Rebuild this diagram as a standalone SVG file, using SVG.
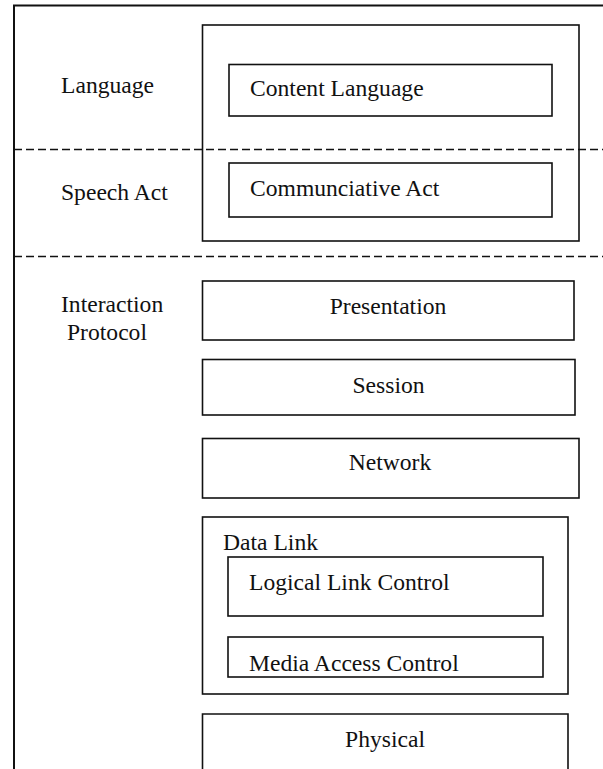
<svg xmlns="http://www.w3.org/2000/svg" width="603" height="769" viewBox="0 0 603 769">
  <style>
    .box { fill: none; stroke: #111; stroke-width: 1.6; }
    .frame { fill: none; stroke: #111; stroke-width: 2; }
    .sep { fill: none; stroke: #111; stroke-width: 1.6; stroke-dasharray: 8 4; }
    .t { font-family: "Liberation Serif", "Times New Roman", serif; font-size: 23.6px; fill: #111; }
    .c { text-anchor: middle; }
  </style>
  <rect width="603" height="769" fill="#fff"/>

  <!-- outer frame: top and left edges only -->
  <g id="frame">
    <path class="frame" d="M14 769 V5.5 H603"/>
  </g>

  <!-- layer separators -->
  <g id="connectors">
    <line class="sep" x1="14" y1="149.5" x2="603" y2="149.5"/>
    <line class="sep" x1="14" y1="256.5" x2="603" y2="256.5"/>
  </g>

  <!-- layer labels -->
  <g id="label-language"><text class="t" x="61" y="93">Language</text></g>
  <g id="label-speech-act"><text class="t" x="61" y="200">Speech Act</text></g>
  <g id="label-interaction-protocol">
    <text class="t" x="61" y="312">Interaction</text>
    <text class="t" x="67" y="340">Protocol</text>
  </g>

  <!-- agent communication stack -->
  <g id="acl-container">
    <rect class="box" x="202.5" y="25" width="376.5" height="216"/>
  </g>
  <g id="content-language">
    <rect class="box" x="229" y="64.5" width="323" height="51.5"/>
    <text class="t" x="250" y="96">Content Language</text>
  </g>
  <g id="communicative-act">
    <rect class="box" x="229" y="163" width="323" height="54"/>
    <text class="t" x="250" y="195.5">Communciative Act</text>
  </g>

  <!-- protocol layers -->
  <g id="presentation">
    <rect class="box" x="202.5" y="281" width="371.5" height="59"/>
    <text class="t c" x="388" y="314">Presentation</text>
  </g>
  <g id="session">
    <rect class="box" x="202.5" y="359.5" width="372.5" height="55.5"/>
    <text class="t c" x="388.5" y="393">Session</text>
  </g>
  <g id="network">
    <rect class="box" x="202.5" y="438.5" width="376.5" height="59.5"/>
    <text class="t c" x="390" y="470">Network</text>
  </g>
  <g id="data-link">
    <rect class="box" x="202.5" y="517" width="365.5" height="177"/>
    <text class="t" x="223" y="550">Data Link</text>
  </g>
  <g id="logical-link-control">
    <rect class="box" x="228" y="557" width="315" height="59"/>
    <text class="t" x="249" y="590">Logical Link Control</text>
  </g>
  <g id="media-access-control">
    <rect class="box" x="228" y="637" width="315" height="40"/>
    <text class="t" x="249" y="671">Media Access Control</text>
  </g>
  <g id="physical">
    <path class="box" d="M202.5 769 V714 H568 V769"/>
    <text class="t c" x="385" y="747">Physical</text>
  </g>
</svg>
